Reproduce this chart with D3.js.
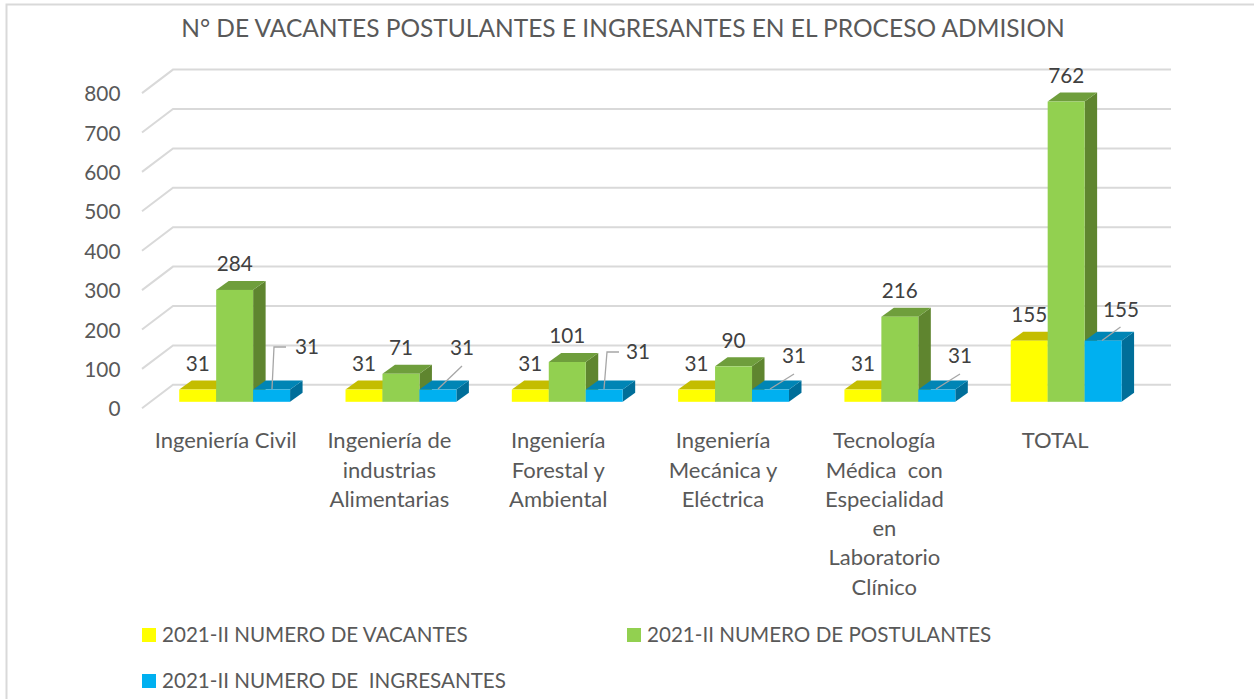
<!DOCTYPE html>
<html><head><meta charset="utf-8">
<script src="https://cdnjs.cloudflare.com/ajax/libs/d3/7.8.5/d3.min.js"></script>
<style>html,body{margin:0;padding:0;background:#fff}svg{display:block;font-family:Lato,sans-serif}</style>
</head><body><svg id="c" width="1254" height="699"></svg>
<script>
const titleText = "N° DE VACANTES POSTULANTES E INGRESANTES EN EL PROCESO ADMISION";
const categories = ["Ingeniería Civil","Ingeniería de industrias Alimentarias","Ingeniería Forestal y Ambiental","Ingeniería Mecánica y Eléctrica","Tecnología Médica con Especialidad en Laboratorio Clínico","TOTAL"];
const categoryLines = [["Ingeniería Civil"],["Ingeniería de","industrias","Alimentarias"],["Ingeniería","Forestal y","Ambiental"],["Ingeniería","Mecánica y","Eléctrica"],["Tecnología","Médica  con","Especialidad","en","Laboratorio","Clínico"],["TOTAL"]];
const seriesNames = ["2021-II NUMERO DE VACANTES","2021-II NUMERO DE POSTULANTES","2021-II NUMERO DE  INGRESANTES"];
const vacantes = [31,31,31,31,31,155];
const postulantes = [284,71,101,90,216,762];
const ingresantes = [31,31,31,31,31,155];
const yTicks = [0,100,200,300,400,500,600,700,800];
const seriesValues = [vacantes,postulantes,ingresantes];
const faceColors = ["#ffff00","#92d050","#00b0f0"];
const topColors = ["#c4bd00","#6f9e3c","#0085b5"];
const sideColors = ["#c4bd00","#5f852f","#006e99"];
const labelShift = [-9,-11.5,-9,-10.5,-15.5,-11];
const leaderStyle = [
 {lx:307,ly:347,pts:[[272,389],[274,347],[286,347]]},
 {lx:462,ly:348,pts:[[438,389],[462,366]]},
 {lx:638,ly:352,pts:[[604,389],[607,352],[619,352]]},
 {lx:794,ly:356,pts:[[770,389],[794,374]]},
 {lx:960,ly:356,pts:[[936,389],[960,374]]},
 {lx:1121,ly:310,pts:[[1102,340.5],[1120.5,327]]}
];
const svg = d3.select("#c");
const grey="#595959", dark="#404040";
svg.append("path").attr("d","M1254.5,4.5H6.5V699").attr("fill","none").attr("stroke","#d9d9d9").attr("stroke-width",2);
svg.append("text").text(titleText).attr("x",623).attr("y",37).attr("text-anchor","middle").attr("font-size",24.5).attr("fill",grey);

const yFront = d3.scaleLinear().domain([0,800]).range([408.3,93.1]);
const depthX=31, depthY=23.5;
const x0 = d3.scaleBand().domain(d3.range(categories.length)).range([151.5,1149.3]).paddingInner(1/3).paddingOuter(1/6);
const x1 = d3.scaleBand().domain([0,1,2]).range([0,x0.bandwidth()]);
const barBase=6.5, dx=12.5, dy=9;

const g=svg.append("g");
g.selectAll("path").data(yTicks).join("path")
 .attr("d",t=>d3.line()([[142,yFront(t)],[142+depthX,yFront(t)-depthY],[1171,yFront(t)-depthY]]))
 .attr("fill","none").attr("stroke","#d9d9d9").attr("stroke-width",2);

const ax=svg.append("g").attr("transform","translate(120.5,1)").call(d3.axisLeft(yFront).tickValues(yTicks).tickSize(0).tickPadding(0));
ax.select(".domain").remove();
ax.selectAll("text").attr("font-family","Lato,sans-serif").attr("font-size",20.8).attr("fill",grey).attr("dy","0.32em");

categories.forEach((c,i)=>{
 const gr=svg.append("g").attr("transform",`translate(${x0(i)},0)`);
 [0,1,2].forEach(s=>{
  const v=seriesValues[s][i], X=x1(s), w=x1.bandwidth(), T=yFront(v)-barBase, B=yFront(0)-barBase;
  gr.append("path").attr("d",`M${X+w},${T}l${dx},${-dy}V${B-dy}L${X+w},${B}Z`).attr("fill",sideColors[s]);
  gr.append("path").attr("d",`M${X},${T}l${dx},${-dy}h${w}l${-dx},${dy}Z`).attr("fill",topColors[s]);
  gr.append("rect").attr("x",X).attr("y",T).attr("width",w).attr("height",B-T).attr("fill",faceColors[s]);
 });
 [0,1].forEach(s=>{
  const v=seriesValues[s][i];
  gr.append("text").text(v).attr("x",x1(s)+x1.bandwidth()/2).attr("y",yFront(v)-barBase-dy-17).attr("dy","0.35em")
   .attr("text-anchor","middle").attr("font-size",20.7).attr("fill",dark);
 });
 const L=leaderStyle[i];
 svg.append("path").attr("d",d3.line()(L.pts)).attr("fill","none").attr("stroke","#a6a6a6").attr("stroke-width",1.3);
 svg.append("text").text(ingresantes[i]).attr("x",L.lx).attr("y",L.ly).attr("dy","0.35em").attr("text-anchor","middle").attr("font-size",20.7).attr("fill",dark);
 categoryLines[i].forEach((t,k)=>{
  svg.append("text").text(t).style("white-space","pre").attr("x",x0(i)+x0.bandwidth()/2+labelShift[i]).attr("y",440.5+k*29.3).attr("dy","0.35em")
   .attr("text-anchor","middle").attr("font-size",22).attr("fill",grey);
 });
});

const legendPos=[[142,635],[627,635],[142,681]];
seriesNames.forEach((n,i)=>{
 const [lx,ly]=legendPos[i];
 svg.append("rect").attr("x",lx).attr("y",ly-7).attr("width",14).attr("height",14).attr("fill",faceColors[i]);
 svg.append("text").text(n).style("white-space","pre").attr("x",lx+20).attr("y",ly).attr("dy","0.35em").attr("font-size",20.6).attr("fill",grey);
});
</script></body></html>
